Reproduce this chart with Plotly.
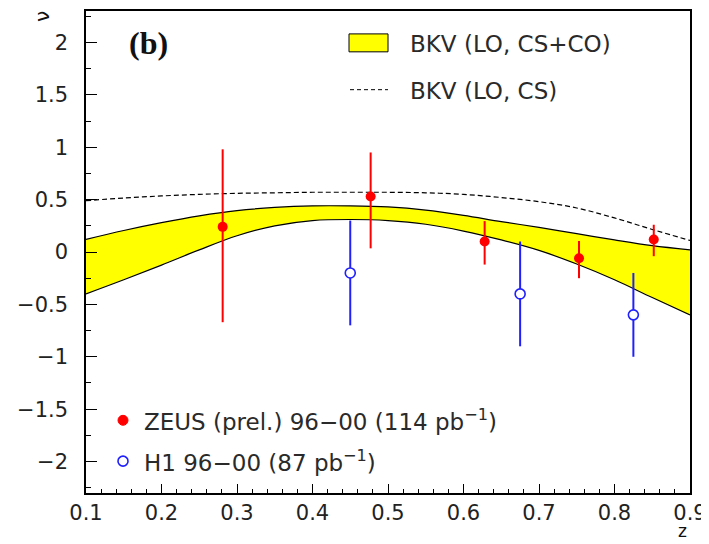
import plotly.graph_objects as go

# ---- data ----
band_z = [0.10, 0.15, 0.20, 0.25, 0.30, 0.35, 0.40, 0.45, 0.50, 0.55, 0.60, 0.65, 0.70, 0.75, 0.80, 0.85, 0.90]
band_upper = [0.12, 0.205, 0.28, 0.345, 0.395, 0.425, 0.44, 0.44, 0.43, 0.40, 0.35, 0.29, 0.235, 0.175, 0.115, 0.06, 0.02]
band_lower = [-0.40, -0.265, -0.125, 0.02, 0.155, 0.25, 0.30, 0.31, 0.30, 0.265, 0.20, 0.115, 0.015, -0.115, -0.265, -0.435, -0.60]
cs_nu = [0.49, 0.515, 0.535, 0.55, 0.56, 0.565, 0.57, 0.57, 0.57, 0.565, 0.55, 0.52, 0.48, 0.42, 0.325, 0.215, 0.11]

zeus_z = [0.281, 0.477, 0.628, 0.753, 0.852]
zeus_nu = [0.24, 0.53, 0.10, -0.06, 0.12]
zeus_err_up = [0.74, 0.42, 0.195, 0.165, 0.14]
zeus_err_down = [0.91, 0.495, 0.22, 0.19, 0.16]

h1_z = [0.45, 0.675, 0.825]
h1_nu = [-0.20, -0.40, -0.60]
h1_err_up = [0.50, 0.50, 0.40]
h1_err_down = [0.50, 0.50, 0.40]

x_ticks = [0.1, 0.2, 0.3, 0.4, 0.5, 0.6, 0.7, 0.8, 0.9]
y_ticks = [-2, -1.5, -1, -0.5, 0, 0.5, 1, 1.5, 2]

label_band = "BKV (LO, CS+CO)"
label_cs = "BKV (LO, CS)"
label_zeus = "ZEUS (prel.) 96\u221200 (114 pb<sup>\u22121</sup>)"
label_h1 = "H1 96\u221200 (87 pb<sup>\u22121</sup>)"

# ---- layout geometry (page pixels; page body has an 8px margin) ----
OFF = 8
PAGE_W, PAGE_H = 709, 544
PL, PR, PT, PB = 86, 690, 9, 493          # plot frame in page pixels
W, H = PAGE_W - OFF, PAGE_H - OFF
ML, MT = PL - OFF, PT - OFF
MR, MB = W - (PR - OFF), H - (PB - OFF)
PW, PH = PR - PL, PB - PT


def px(xp):
    return (xp - PL) / PW


def py(yp):
    return (PB - yp) / PH


FONT = "DejaVu Sans"

fig = go.Figure()

fig.add_trace(go.Scatter(x=band_z, y=band_lower, mode="lines",
                         line=dict(color="black", width=1.2, shape="spline", smoothing=1.0),
                         showlegend=False, hoverinfo="skip"))
fig.add_trace(go.Scatter(x=band_z, y=band_upper, mode="lines", fill="tonexty",
                         fillcolor="#ffff00",
                         line=dict(color="black", width=1.2, shape="spline", smoothing=1.0),
                         showlegend=False, hoverinfo="skip"))
fig.add_trace(go.Scatter(x=band_z, y=cs_nu, mode="lines",
                         line=dict(color="black", width=1.2, dash="5px,3px", shape="spline"),
                         showlegend=False))

fig.add_trace(go.Scatter(x=h1_z, y=h1_nu, mode="markers",
                         marker=dict(symbol="circle", size=10, color="white",
                                     line=dict(color="#2020ff", width=1.6)),
                         error_y=dict(type="data", symmetric=False, array=h1_err_up,
                                      arrayminus=h1_err_down, color="#2020ff",
                                      thickness=2, width=0),
                         showlegend=False))
fig.add_trace(go.Scatter(x=zeus_z, y=zeus_nu, mode="markers",
                         marker=dict(symbol="circle", size=10, color="#ff0000"),
                         error_y=dict(type="data", symmetric=False, array=zeus_err_up,
                                      arrayminus=zeus_err_down, color="#ff0000",
                                      thickness=2, width=0),
                         showlegend=False))

shapes = [
    dict(type="rect", xref="paper", yref="paper",
         x0=px(349), x1=px(388), y0=py(50), y1=py(32),
         fillcolor="#ffff00", line=dict(color="black", width=1)),
    dict(type="line", xref="paper", yref="paper",
         x0=px(350), x1=px(388), y0=py(88), y1=py(88),
         line=dict(color="black", width=1, dash="4px,3px")),
    dict(type="circle", xref="paper", yref="paper",
         x0=px(118), x1=px(128), y0=py(425), y1=py(415),
         fillcolor="#ff0000", line=dict(color="#ff0000", width=1)),
    dict(type="circle", xref="paper", yref="paper",
         x0=px(118), x1=px(128), y0=py(466), y1=py(456),
         fillcolor="white", line=dict(color="#2020ff", width=1.6)),
]

annotations = [
    dict(text=label_band, x=px(408), y=py(42), xanchor="left", yanchor="middle"),
    dict(text=label_cs, x=px(408), y=py(89), xanchor="left", yanchor="middle"),
    dict(text=label_zeus, x=px(142), y=py(420), xanchor="left", yanchor="middle"),
    dict(text=label_h1, x=px(142), y=py(461), xanchor="left", yanchor="middle"),
]
for a in annotations:
    a.update(xref="paper", yref="paper", showarrow=False,
             font=dict(family=FONT, size=23, color="#2a2a2a"))

annotations += [
    dict(text="<b>(b)</b>", x=px(148), y=py(41), xref="paper", yref="paper",
         showarrow=False, xanchor="center", yanchor="middle",
         font=dict(family="Liberation Serif", size=32, color="#111111")),
    dict(text="\u03bd", x=px(42), y=py(15), xref="paper", yref="paper",
         showarrow=False, textangle=-90, xanchor="center", yanchor="middle",
         font=dict(family=FONT, size=20, color="#111111")),
    dict(text="z", x=px(682), y=py(543), xref="paper", yref="paper",
         showarrow=False, xanchor="center", yanchor="bottom",
         font=dict(family=FONT, size=17, color="#111111")),
]

fig.update_layout(
    width=W, height=H,
    margin=dict(l=ML, r=MR, t=MT, b=MB, pad=0),
    paper_bgcolor="white", plot_bgcolor="white",
    shapes=shapes, annotations=annotations,
    showlegend=False,
)

fig.update_xaxes(range=[0.1, 0.9], tickmode="array", tickvals=x_ticks,
                 ticktext=[f"{v:g}" for v in x_ticks],
                 ticks="inside", ticklen=9, tickwidth=1.2, tickcolor="black",
                 minor=dict(dtick=0.02, tick0=0.1, ticks="inside", ticklen=4,
                            tickwidth=1, tickcolor="black", showgrid=False),
                 showgrid=False, zeroline=False,
                 showline=True, linecolor="black", linewidth=1.5, mirror=True,
                 tickfont=dict(family=FONT, size=21, color="#222222"))

fig.update_yaxes(range=[-2.3, 2.3], tickmode="array", tickvals=y_ticks,
                 ticktext=[f"{v:g}".replace("-", "\u2212") for v in y_ticks],
                 ticks="inside", ticklen=11, tickwidth=1.2, tickcolor="black",
                 minor=dict(dtick=0.25, tick0=0, ticks="inside", ticklen=5,
                            tickwidth=1, tickcolor="black", showgrid=False),
                 showgrid=False, zeroline=False,
                 showline=True, linecolor="black", linewidth=1.5, mirror=True,
                 tickfont=dict(family=FONT, size=21, color="#222222"),
                 ticklabelstandoff=12)

fig.write_html("out.html")
